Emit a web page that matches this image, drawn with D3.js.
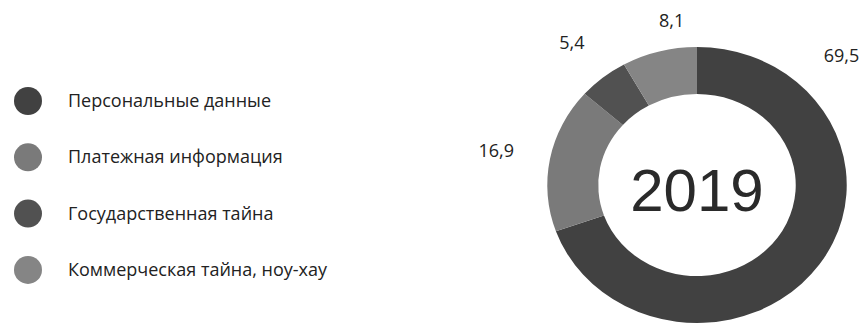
<!DOCTYPE html>
<html>
<head>
<meta charset="utf-8">
<script src="https://cdnjs.cloudflare.com/ajax/libs/d3/7.8.5/d3.min.js"></script>
<style>
  body { margin: 0; background: #fff; }
  svg { display: block; }
</style>
</head>
<body>
<div id="chart"></div>
<script>

var categories = ["Персональные данные", "Платежная информация", "Государственная тайна", "Коммерческая тайна, ноу-хау"];
var values = [69.5, 16.9, 5.4, 8.1];
var labels = ["69,5", "16,9", "5,4", "8,1"];
var colors = ["#414141", "#7a7a7a", "#515151", "#858585"];
var year = "2019";

var width = 865, height = 324;

var svg = d3.select("#chart")
	.append("svg")
	.attr("width", width)
	.attr("height", height);

// legend
var legend = svg.append("g").attr("transform", "translate(28,101)");

var rows = legend.selectAll("g")
	.data(categories)
	.enter()
	.append("g")
	.attr("transform", function(d, i) { return "translate(0," + (i * 56.3) + ")"; });

rows.append("circle")
	.attr("r", 14)
	.style("fill", function(d, i) { return colors[i]; });

rows.append("text")
	.attr("x", 40)
	.attr("y", 6)
	.style("font-family", "'Open Sans', sans-serif")
	.style("font-size", "18px")
	.style("fill", "#222")
	.text(function(d) { return d; });

// donut (slightly stretched horizontally like the source)
var cx = 697, cy = 185, sx = 1.085;
var outerR = 138, innerR = 91;

var pie = d3.pie().sort(null).value(function(d) { return d; });
var arcs = pie(values);

var arc = d3.arc().innerRadius(innerR).outerRadius(outerR);

var donut = svg.append("g")
	.attr("transform", "translate(" + cx + "," + cy + ") scale(" + sx + ",1)");

donut.selectAll("path")
	.data(arcs)
	.enter()
	.append("path")
	.attr("d", arc)
	.style("fill", function(d, i) { return colors[i]; });

// value labels outside the ring
function labelAngle(d) {
	var mid = (d.startAngle + d.endAngle) / 2;
	if (d.endAngle - d.startAngle > Math.PI) return d.startAngle + Math.PI / 4;
	if (d.endAngle > 2 * Math.PI - 0.05) return (mid + d.endAngle) / 2;
	return mid;
}
var labelR = 172;

var vals = svg.append("g")
	.selectAll("text")
	.data(arcs)
	.enter()
	.append("text")
	.attr("text-anchor", "middle")
	.attr("dominant-baseline", "central")
	.style("font-family", "'Open Sans', sans-serif")
	.style("font-size", "18px")
	.style("fill", "#222")
	.text(function(d, i) { return labels[i]; });

vals.each(function(d) {
	var b = this.getBBox();
	var a = labelAngle(d);
	var s = Math.sin(a), c = Math.cos(a);
	var x = cx + sx * labelR * s + s * b.width / 2;
	var y = cy - labelR * c - c * b.height / 2;
	y = Math.max(y, b.height / 2 + 8);
	d3.select(this).attr("x", x).attr("y", y);
});

svg.append("text")
	.attr("x", cx)
	.attr("y", cy + 26)
	.attr("text-anchor", "middle")
	.style("font-family", "'Liberation Sans', Arial, sans-serif")
	.style("font-size", "60px")
	.style("fill", "#2a2a2a")
	.text(year);

</script>
</body>
</html>
